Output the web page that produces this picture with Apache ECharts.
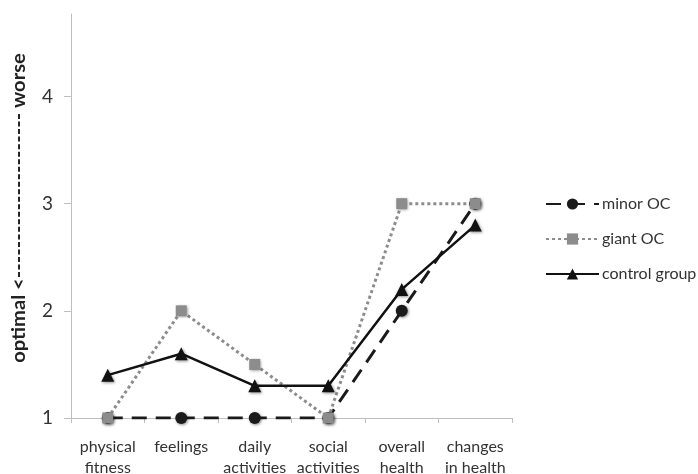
<!DOCTYPE html>
<html>
<head>
<meta charset="utf-8">
<script src="https://cdn.jsdelivr.net/npm/echarts@6/dist/echarts.min.js"></script>
<style>
  html, body { margin: 0; padding: 0; background: #fff; }
  #chart { width: 698px; height: 474px; }
</style>
</head>
<body>
<div id="chart"></div>
<script>
// Health-domain scores per group (1 = optimal, higher = worse)
const categories = ['physical\nfitness', 'feelings', 'daily\nactivities', 'social\nactivities', 'overall\nhealth', 'changes\nin health'];
const minorOC = [1, 1, 1, 1, 2, 3];
const giantOC = [1, 2, 1.5, 1, 3, 3];
const controlGroup = [1.4, 1.6, 1.3, 1.3, 2.2, 2.8];
const yTicks = [1, 2, 3, 4];
const yAxisTitle = 'optimal <' + '-'.repeat(22) + ' worse';

const font = 'Lato, "Open Sans", sans-serif';
const markShadow = { shadowBlur: 3, shadowColor: 'rgba(0,0,0,0.45)', shadowOffsetX: 1, shadowOffsetY: 1 };

const chart = echarts.init(document.getElementById('chart'), null, { renderer: 'canvas' });
chart.setOption({
  animation: false,
  backgroundColor: '#ffffff',
  textStyle: { fontFamily: font },
  // fixed plot box; the category labels may run past the bottom edge
  grid: { left: 71, right: 186, top: 14, bottom: 56, containLabel: false, outerBoundsMode: 'none' },
  // vertical axis title, stretched along its reading direction
  graphic: [{
    type: 'text',
    x: 19,
    y: 208,
    rotation: Math.PI / 2,
    scaleX: 1.12,
    style: {
      text: yAxisTitle,
      font: 'bold 18px Lato, "Open Sans", sans-serif',
      fill: '#222',
      align: 'center',
      verticalAlign: 'middle'
    }
  }],
  legend: {
    orient: 'vertical',
    left: 540,
    top: 191,
    itemWidth: 53,
    itemHeight: 14,
    itemGap: 19,
    textStyle: { fontFamily: font, fontSize: 16, color: '#333', padding: [0, 0, 0, -2] },
    data: ['minor OC', 'giant OC', 'control group']
  },
  xAxis: {
    type: 'category',
    data: categories,
    boundaryGap: true,
    axisLine: { lineStyle: { color: '#bfbfbf', width: 1 } },
    axisTick: { show: true, length: 5, lineStyle: { color: '#bfbfbf' } },
    axisLabel: { fontFamily: font, fontSize: 16, color: '#333', margin: 18, lineHeight: 21, interval: 0 },
    splitLine: { show: false }
  },
  yAxis: {
    type: 'value',
    min: 1,
    max: 4.77,
    interval: 1,
    axisLine: { show: true, lineStyle: { color: '#bfbfbf', width: 1 } },
    axisTick: { show: true, length: 7, lineStyle: { color: '#bfbfbf' }, customValues: yTicks },
    axisLabel: { fontFamily: font, fontSize: 19, color: '#333', margin: 18, customValues: yTicks },
    splitLine: { show: false }
  },
  series: [
    {
      name: 'minor OC',
      type: 'line',
      data: minorOC,
      symbol: 'circle',
      symbolSize: 12,
      lineStyle: { color: '#1a1a1a', width: 3, type: [15, 9] },
      itemStyle: Object.assign({ color: '#1a1a1a' }, markShadow)
    },
    {
      name: 'giant OC',
      type: 'line',
      data: giantOC,
      symbol: 'rect',
      symbolSize: 11,
      lineStyle: { color: '#8c8c8c', width: 3, type: [3, 3] },
      itemStyle: Object.assign({ color: '#8c8c8c' }, markShadow)
    },
    {
      name: 'control group',
      type: 'line',
      data: controlGroup,
      symbol: 'triangle',
      symbolSize: 13,
      lineStyle: { color: '#111', width: 2.5 },
      itemStyle: Object.assign({ color: '#111' }, markShadow)
    }
  ]
});
</script>
</body>
</html>
